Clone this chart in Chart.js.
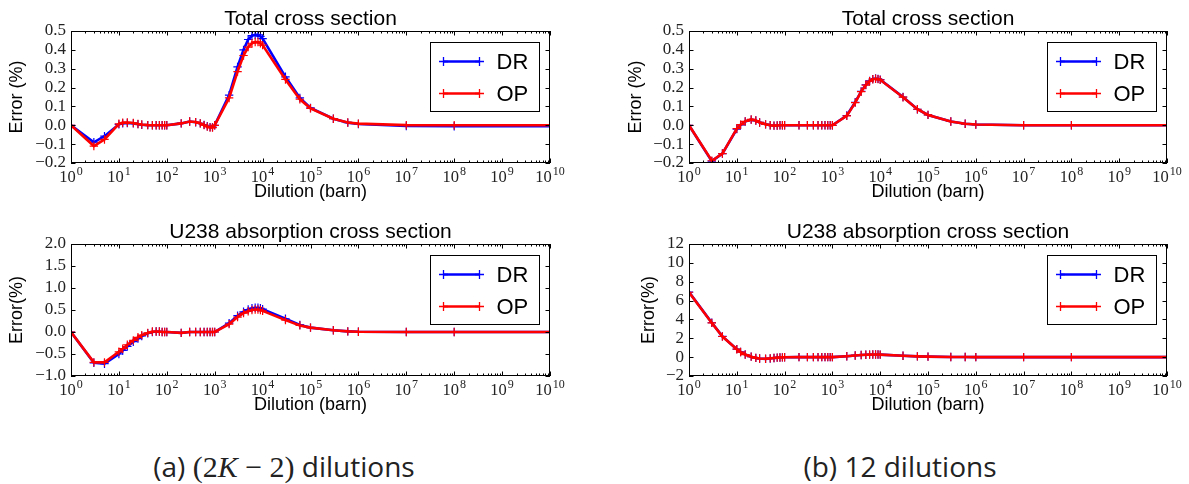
<!DOCTYPE html>
<html>
<head>
<meta charset="utf-8">
<script src="https://cdn.jsdelivr.net/npm/chart.js@4.4.0/dist/chart.umd.min.js"></script>
<style>
  body { margin: 0; background: #fff; width: 1189px; height: 484px; position: relative; overflow: hidden; }
  canvas { position: absolute; }
  .cap { position: absolute; top: 447px; width: 500px; font: 28px "Open Sans"; color: #222; text-align: center; white-space: nowrap; line-height: 38px; }
  .m { font-family: "Liberation Serif"; font-size: 30px; }
  .m i { font-style: italic; }
</style>
</head>
<body>
<canvas id="totalA" width="594" height="215" style="left:0;top:0"></canvas>
<canvas id="u238A" width="594" height="215" style="left:0;top:213px"></canvas>
<canvas id="totalB" width="595" height="215" style="left:594px;top:0"></canvas>
<canvas id="u238B" width="595" height="215" style="left:594px;top:213px"></canvas>
<div class="cap" style="left:34px">(a) <span class="m">(2<i>K</i> − 2)</span> dilutions</div>
<div class="cap" style="left:650px">(b) 12 dilutions</div>
<script>
  // dilution grid (barn)
  const dilution = [1, 3, 5, 10, 12, 15, 20, 25, 30, 40, 50, 60, 70, 80, 90, 100,
    200, 300, 400, 500, 600, 700, 800, 900, 1000, 2000, 3000, 4000, 5000, 6000, 7000, 8000, 9000,
    1e4, 3e4, 6e4, 1e5, 3e5, 6e5, 1e6, 1e7, 1e8, 1e10];

  // (a) 2K-2 dilutions, total cross section error (%)
  const totalA_DR = [0.000, -0.090, -0.058, 0.005, 0.010, 0.012, 0.010, 0.006, 0.003, 0.001, 0.000, 0.000, 0.000, 0.000, 0.000, 0.000,
    0.010, 0.020, 0.016, 0.010, 0.002, -0.005, -0.010, -0.010, 0.000, 0.160, 0.310, 0.400, 0.455, 0.475, 0.480, 0.480, 0.472,
    0.460, 0.257, 0.145, 0.092, 0.035, 0.014, 0.007, -0.004, -0.005, -0.005];
  const totalA_OP = [0.000, -0.110, -0.075, 0.008, 0.014, 0.015, 0.012, 0.007, 0.004, 0.001, 0.000, 0.000, 0.000, 0.000, 0.000, 0.000,
    0.010, 0.020, 0.017, 0.010, 0.001, -0.007, -0.012, -0.012, 0.000, 0.145, 0.285, 0.370, 0.415, 0.435, 0.442, 0.442, 0.435,
    0.425, 0.243, 0.138, 0.090, 0.035, 0.015, 0.009, 0.001, 0.000, 0.000];

  // (a) U238 absorption error (%)
  const u238A_DR = [0.00, -0.70, -0.72, -0.50, -0.42, -0.33, -0.22, -0.15, -0.09, -0.03, 0.00, 0.01, 0.01, 0.00, 0.00, 0.00,
    -0.02, 0.00, 0.00, 0.00, 0.00, 0.00, 0.00, 0.00, 0.00, 0.20, 0.37, 0.46, 0.51, 0.54, 0.55, 0.55, 0.54,
    0.52, 0.30, 0.16, 0.10, 0.04, 0.015, 0.006, 0.00, 0.00, 0.00];
  const u238A_OP = [0.00, -0.69, -0.69, -0.45, -0.38, -0.29, -0.19, -0.12, -0.07, -0.02, 0.01, 0.01, 0.01, 0.00, 0.00, 0.00,
    -0.02, 0.00, 0.00, 0.00, 0.00, 0.00, 0.00, 0.00, 0.00, 0.18, 0.34, 0.43, 0.47, 0.50, 0.51, 0.51, 0.50,
    0.48, 0.27, 0.15, 0.10, 0.04, 0.015, 0.006, 0.00, 0.00, 0.00];

  // (b) 12 dilutions, total cross section error (%)
  const totalB_DR = [0.000, -0.190, -0.150, -0.020, 0.002, 0.020, 0.030, 0.025, 0.015, 0.005, 0.000, -0.002, -0.001, 0.000, 0.000, 0.000,
    0.000, 0.000, 0.000, 0.000, 0.000, 0.000, 0.000, 0.000, 0.000, 0.052, 0.122, 0.180, 0.215, 0.235, 0.245, 0.248, 0.246,
    0.242, 0.150, 0.085, 0.055, 0.020, 0.008, 0.004, 0.000, 0.000, 0.000];
  const totalB_OP = [0.000, -0.188, -0.150, -0.018, 0.003, 0.021, 0.031, 0.025, 0.015, 0.005, 0.000, -0.002, -0.001, 0.000, 0.000, 0.000,
    0.000, 0.000, 0.000, 0.000, 0.000, 0.000, 0.000, 0.000, 0.000, 0.050, 0.120, 0.178, 0.213, 0.234, 0.244, 0.247, 0.245,
    0.241, 0.149, 0.085, 0.055, 0.020, 0.008, 0.004, 0.000, 0.000, 0.000];

  // (b) U238 absorption error (%)
  const u238B_DR = [6.90, 3.65, 2.20, 0.85, 0.55, 0.28, 0.05, -0.08, -0.15, -0.18, -0.14, -0.09, -0.05, -0.03, -0.02, -0.01,
    0.00, 0.00, 0.00, 0.00, 0.00, 0.00, 0.00, 0.00, 0.00, 0.10, 0.18, 0.22, 0.25, 0.27, 0.28, 0.28, 0.28,
    0.27, 0.15, 0.08, 0.05, 0.02, 0.01, 0.00, 0.00, 0.00, 0.00];
  const u238B_OP = [6.88, 3.63, 2.19, 0.84, 0.54, 0.27, 0.05, -0.08, -0.15, -0.17, -0.13, -0.09, -0.05, -0.03, -0.02, -0.01,
    0.00, 0.00, 0.00, 0.00, 0.00, 0.00, 0.00, 0.00, 0.00, 0.10, 0.18, 0.22, 0.25, 0.27, 0.28, 0.28, 0.28,
    0.27, 0.15, 0.08, 0.05, 0.02, 0.01, 0.00, 0.00, 0.00, 0.00];

  // axis ticks
  const xTickExps = [0, 1, 2, 3, 4, 5, 6, 7, 8, 9, 10];
  const yTicksTotal = [-0.2, -0.1, 0.0, 0.1, 0.2, 0.3, 0.4, 0.5];
  const yTicksU238A = [-1.0, -0.5, 0.0, 0.5, 1.0, 1.5, 2.0];
  const yTicksU238B = [-2, 0, 2, 4, 6, 8, 10, 12];

  const seriesNames = ["DR", "OP"];
  const seriesColors = ["#0000ff", "#ff0000"];

  const serif = '"Liberation Serif", serif';
  const sans = '"Liberation Sans", Arial, sans-serif';

  const fmtTick = (v, dec) => {
    const s = Math.abs(v).toFixed(dec);
    return (v < -1e-9 ? "\u2212" : "") + s;
  };

  const drawCross = (ctx, x, y, r) => {
    ctx.moveTo(x - r, y); ctx.lineTo(x + r, y);
    ctx.moveTo(x, y - r); ctx.lineTo(x, y + r);
  };

  // matplotlib-like frame, inward ticks, 10^n labels, title and boxed legend
  const panelDecor = {
    id: "panelDecor",
    afterDraw(chart, args, opts) {
      const { ctx, chartArea: a, scales: { x, y } } = chart;
      ctx.save();

      ctx.strokeStyle = "#000";
      ctx.lineWidth = 1;
      ctx.beginPath();
      const last = xTickExps[xTickExps.length - 1];
      xTickExps.forEach((n) => {
        const px = Math.round(x.getPixelForValue(10 ** n)) + 0.5;
        ctx.moveTo(px, a.top); ctx.lineTo(px, a.top + 4.5);
        ctx.moveTo(px, a.bottom); ctx.lineTo(px, a.bottom - 4.5);
        if (n < last) {
          for (let k = 2; k <= 9; k++) {
            const mx = Math.round(x.getPixelForValue(k * 10 ** n)) + 0.5;
            ctx.moveTo(mx, a.top); ctx.lineTo(mx, a.top + 2.5);
            ctx.moveTo(mx, a.bottom); ctx.lineTo(mx, a.bottom - 2.5);
          }
        }
      });
      y.ticks.forEach((t) => {
        const py = Math.round(y.getPixelForValue(t.value)) + 0.5;
        ctx.moveTo(a.left, py); ctx.lineTo(a.left + 4.5, py);
        ctx.moveTo(a.right, py); ctx.lineTo(a.right - 4.5, py);
      });
      ctx.stroke();
      ctx.strokeRect(Math.round(a.left) + 0.5, Math.round(a.top) + 0.5,
        Math.round(a.right - a.left) - 1, Math.round(a.bottom - a.top) - 1);

      // x tick labels as 10 with a raised exponent
      ctx.fillStyle = "#222";
      ctx.textAlign = "left";
      ctx.textBaseline = "alphabetic";
      xTickExps.forEach((n) => {
        const px = x.getPixelForValue(10 ** n);
        const e = String(n);
        ctx.font = `16.5px ${serif}`;
        const w1 = ctx.measureText("10").width;
        ctx.font = `12px ${serif}`;
        const w2 = ctx.measureText(e).width;
        const x0 = px - (w1 + w2 + 1) / 2;
        ctx.font = `16.5px ${serif}`;
        ctx.fillText("10", x0, a.bottom + 19);
        ctx.font = `12px ${serif}`;
        ctx.fillText(e, x0 + w1 + 1, a.bottom + 12);
      });

      // panel title
      ctx.fillStyle = "#000";
      ctx.textAlign = "center";
      ctx.font = `21px ${sans}`;
      ctx.fillText(opts.title, (a.left + a.right) / 2, a.top - 6);

      // legend box in the upper right corner
      const bw = 109, bh = 69;
      const bx = Math.round(a.right - 11 - bw) + 0.5;
      const by = Math.round(a.top + 11) + 0.5;
      ctx.fillStyle = "#fff";
      ctx.fillRect(bx, by, bw, bh);
      ctx.strokeStyle = "#000";
      ctx.lineWidth = 1;
      ctx.strokeRect(bx, by, bw, bh);
      seriesNames.forEach((name, i) => {
        const ly = by + 19 + i * 32;
        ctx.strokeStyle = seriesColors[i];
        ctx.lineWidth = 2.5;
        ctx.beginPath();
        ctx.moveTo(bx + 13, ly); ctx.lineTo(bx + 49, ly);
        ctx.stroke();
        ctx.lineWidth = 1.3;
        ctx.beginPath();
        drawCross(ctx, bx + 13, ly, 4.5);
        drawCross(ctx, bx + 49, ly, 4.5);
        ctx.stroke();
        ctx.fillStyle = "#000";
        ctx.textAlign = "left";
        ctx.textBaseline = "middle";
        ctx.font = `22px ${sans}`;
        ctx.fillText(name, bx + 66, ly + 1);
      });
      ctx.restore();
    },
  };

  const makePanel = (id, cfg) => {
    const points = (vals) => dilution.map((d, i) => ({ x: d, y: vals[i] }));
    const ds = (vals, i, order) => ({
      label: seriesNames[i],
      data: points(vals),
      borderColor: seriesColors[i],
      backgroundColor: seriesColors[i],
      borderWidth: 2.6,
      pointStyle: "cross",
      pointRadius: 4.2,
      pointBorderWidth: 1.2,
      tension: 0,
      order,
    });
    return new Chart(document.getElementById(id), {
      type: "line",
      data: { datasets: [ds(cfg.dr, 0, 1), ds(cfg.op, 1, 0)] },
      plugins: [panelDecor],
      options: {
        responsive: false,
        animation: false,
        layout: { padding: { left: cfg.padLeft, right: cfg.padRight, top: 31, bottom: 0 } },
        plugins: {
          legend: { display: false },
          tooltip: { enabled: false },
          panelDecor: { title: cfg.title },
        },
        scales: {
          x: {
            type: "logarithmic",
            min: 1,
            max: 1e10,
            grid: { display: false, drawTicks: false },
            border: { display: false },
            ticks: { display: false },
            title: {
              display: true,
              text: "Dilution (barn)",
              color: "#000",
              font: { family: sans, size: 18 },
              padding: { top: 0, bottom: 12 },
            },
            afterFit: (s) => { s.height = 52; },
          },
          y: {
            min: cfg.yTicks[0],
            max: cfg.yTicks[cfg.yTicks.length - 1],
            grid: { display: false, drawTicks: false },
            border: { display: false },
            afterBuildTicks: (s) => { s.ticks = cfg.yTicks.map((v) => ({ value: v })); },
            ticks: {
              autoSkip: false,
              padding: 5,
              color: "#222",
              font: { family: serif, size: 17 },
              callback: (v) => fmtTick(v, cfg.dec),
            },
            title: {
              display: true,
              text: cfg.yLabel,
              color: "#000",
              font: { family: sans, size: 18 },
              padding: { top: 6, bottom: 0 },
            },
            afterFit: (s) => { s.width = cfg.yWidth; },
          },
        },
      },
    });
  };

  makePanel("totalA", { title: "Total cross section", yLabel: "Error (%)", dr: totalA_DR, op: totalA_OP,
    yTicks: yTicksTotal, dec: 1, padLeft: 0, yWidth: 71, padRight: 44 });
  makePanel("u238A", { title: "U238 absorption cross section", yLabel: "Error(%)", dr: u238A_DR, op: u238A_OP,
    yTicks: yTicksU238A, dec: 1, padLeft: 0, yWidth: 71, padRight: 44 });
  makePanel("totalB", { title: "Total cross section", yLabel: "Error (%)", dr: totalB_DR, op: totalB_OP,
    yTicks: yTicksTotal, dec: 1, padLeft: 25, yWidth: 70, padRight: 22 });
  makePanel("u238B", { title: "U238 absorption cross section", yLabel: "Error(%)", dr: u238B_DR, op: u238B_OP,
    yTicks: yTicksU238B, dec: 0, padLeft: 38, yWidth: 57, padRight: 22 });
</script>
</body>
</html>
